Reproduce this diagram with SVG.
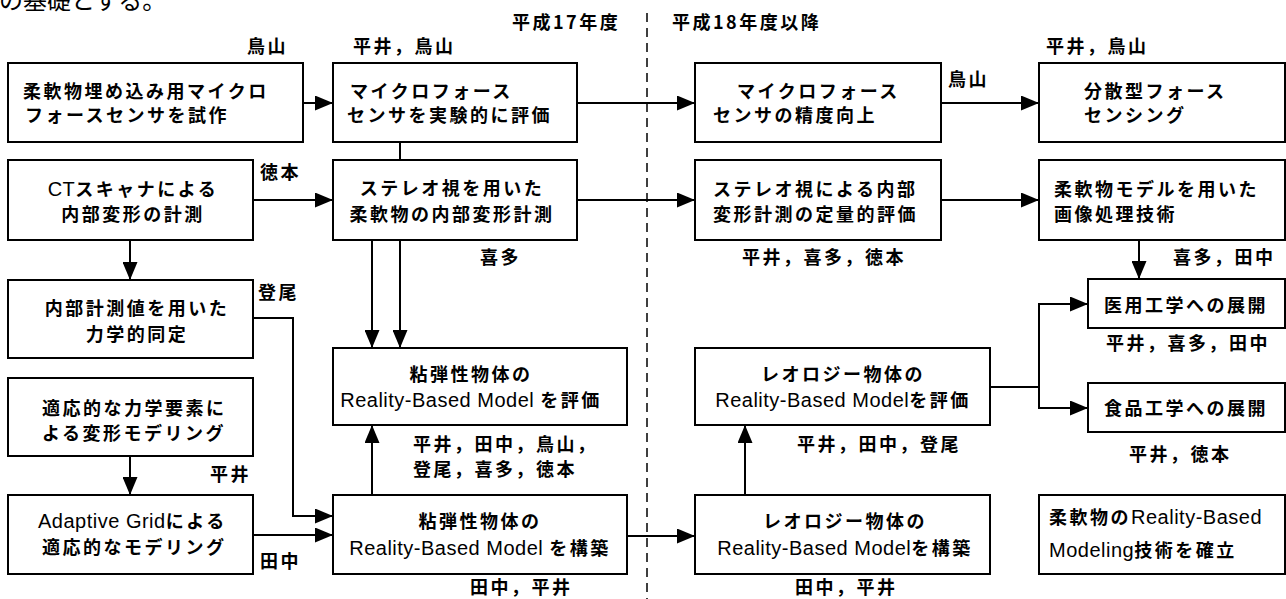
<svg xmlns="http://www.w3.org/2000/svg" width="1286" height="599" viewBox="0 0 1286 599">
<style>
.box{fill:#fff;stroke:#000;stroke-width:2}
.j{font-family:"Noto Sans CJK JP","Noto Sans CJK SC",sans-serif;font-size:18px;font-weight:700;letter-spacing:2.5px;fill:#000}
.l{font-family:"Liberation Sans",Arial,sans-serif;font-size:20px;font-weight:400;letter-spacing:0.5px}
.m{text-anchor:middle}
.cn{fill:none;stroke:#000;stroke-width:2}
.top{font-family:"Noto Sans CJK JP",sans-serif;font-size:24px;fill:#000}
</style>
<defs>
<marker id="ah" markerUnits="userSpaceOnUse" markerWidth="18" markerHeight="15" refX="18" refY="7.5" orient="auto">
<path d="M0,0 L18,7.5 L0,15 z" fill="#000"/>
</marker>
</defs>
<rect width="1286" height="599" fill="#fff"/>
<text class="top" x="-1" y="9">の基礎とする。</text>
<text class="j" x="512" y="29">平成17年度</text>
<text class="j" x="672" y="29">平成18年度以降</text>
<path d="M647,13 V599" stroke="#000" stroke-width="1.5" stroke-dasharray="9,6" fill="none"/>

<g id="connectors">
<path class="cn" d="M303,103 H333" marker-end="url(#ah)"/>
<path class="cn" d="M253,200 H333" marker-end="url(#ah)"/>
<path class="cn" d="M400,142 V160"/>
<path class="cn" d="M130,240 V280" marker-end="url(#ah)"/>
<path class="cn" d="M253,318 H293 V516 H333" marker-end="url(#ah)"/>
<path class="cn" d="M130,456 V495" marker-end="url(#ah)"/>
<path class="cn" d="M253,535 H333" marker-end="url(#ah)"/>
<path class="cn" d="M372,240 V348" marker-end="url(#ah)"/>
<path class="cn" d="M400,240 V348" marker-end="url(#ah)"/>
<path class="cn" d="M372,495 V425" marker-end="url(#ah)"/>
<path class="cn" d="M577,103 H695" marker-end="url(#ah)"/>
<path class="cn" d="M577,200 H695" marker-end="url(#ah)"/>
<path class="cn" d="M627,536 H695" marker-end="url(#ah)"/>
<path class="cn" d="M941,103 H1039" marker-end="url(#ah)"/>
<path class="cn" d="M941,200 H1039" marker-end="url(#ah)"/>
<path class="cn" d="M1139,240 V279" marker-end="url(#ah)"/>
<path class="cn" d="M990,387 H1039 V304 H1088" marker-end="url(#ah)"/>
<path class="cn" d="M1039,387 V408 H1088" marker-end="url(#ah)"/>
<path class="cn" d="M745,495 V425" marker-end="url(#ah)"/>
</g>

<g id="nA1"><rect class="box" x="8" y="63" width="295" height="79"/>
<text class="j" x="23" y="98">柔軟物埋め込み用マイクロ</text>
<text class="j" x="25" y="122">フォースセンサを試作</text></g>
<g id="nB1"><rect class="box" x="333" y="63" width="244" height="79"/>
<text class="j" x="350" y="98">マイクロフォース</text>
<text class="j" x="347" y="122">センサを実験的に評価</text></g>
<g id="nC1"><rect class="box" x="695" y="63" width="246" height="79"/>
<text class="j" x="737" y="98">マイクロフォース</text>
<text class="j" x="713" y="122">センサの精度向上</text></g>
<g id="nD1"><rect class="box" x="1039" y="63" width="246" height="79"/>
<text class="j" x="1084" y="98">分散型フォース</text>
<text class="j" x="1084" y="122">センシング</text></g>

<g id="nA2"><rect class="box" x="8" y="160" width="245" height="80"/>
<text class="j m" x="133" y="196"><tspan class="l">CT</tspan>スキャナによる</text>
<text class="j m" x="133" y="221">内部変形の計測</text></g>
<g id="nB2"><rect class="box" x="333" y="160" width="244" height="80"/>
<text class="j m" x="452" y="195">ステレオ視を用いた</text>
<text class="j m" x="452" y="221">柔軟物の内部変形計測</text></g>
<g id="nC2"><rect class="box" x="695" y="160" width="246" height="80"/>
<text class="j" x="713" y="196">ステレオ視による内部</text>
<text class="j" x="713" y="221">変形計測の定量的評価</text></g>
<g id="nD2"><rect class="box" x="1039" y="160" width="246" height="80"/>
<text class="j" x="1054" y="196">柔軟物モデルを用いた</text>
<text class="j" x="1054" y="221">画像処理技術</text></g>

<g id="nA3"><rect class="box" x="8" y="280" width="245" height="78"/>
<text class="j m" x="137" y="315">内部計測値を用いた</text>
<text class="j m" x="137" y="341">力学的同定</text></g>
<g id="nA4"><rect class="box" x="8" y="378" width="245" height="78"/>
<text class="j" x="42" y="415">適応的な力学要素に</text>
<text class="j" x="42" y="440">よる変形モデリング</text></g>
<g id="nA5"><rect class="box" x="8" y="495" width="245" height="79"/>
<text class="j" x="38" y="528"><tspan class="l">Adaptive Grid</tspan>による</text>
<text class="j" x="42" y="554">適応的なモデリング</text></g>

<g id="nB3"><rect class="box" x="333" y="348" width="294" height="77"/>
<text class="j m" x="471" y="381">粘弾性物体の</text>
<text class="j m" x="471" y="407"><tspan class="l">Reality-Based Model </tspan>を評価</text></g>
<g id="nB4"><rect class="box" x="333" y="495" width="294" height="79"/>
<text class="j m" x="480" y="528">粘弾性物体の</text>
<text class="j m" x="480" y="555"><tspan class="l">Reality-Based Model </tspan>を構築</text></g>
<g id="nC3"><rect class="box" x="695" y="348" width="295" height="77"/>
<text class="j m" x="843" y="381">レオロジー物体の</text>
<text class="j m" x="843" y="407"><tspan class="l">Reality-Based Model</tspan>を評価</text></g>
<g id="nC4"><rect class="box" x="695" y="495" width="295" height="79"/>
<text class="j m" x="845" y="528">レオロジー物体の</text>
<text class="j m" x="845" y="555"><tspan class="l">Reality-Based Model</tspan>を構築</text></g>

<g id="nD3"><rect class="box" x="1088" y="279" width="197" height="49"/>
<text class="j" x="1104" y="312">医用工学への展開</text></g>
<g id="nD4"><rect class="box" x="1088" y="383" width="197" height="49"/>
<text class="j" x="1104" y="415">食品工学への展開</text></g>
<g id="nD5"><rect class="box" x="1039" y="495" width="246" height="79"/>
<text class="j" x="1049" y="524">柔軟物の<tspan class="l">Reality-Based</tspan></text>
<text class="j" x="1049" y="557"><tspan class="l">Modeling</tspan>技術を確立</text></g>

<g id="labels">
<text class="j" x="247" y="53">鳥山</text>
<text class="j" x="353" y="53">平井，鳥山</text>
<text class="j" x="948" y="86">鳥山</text>
<text class="j" x="1046" y="53">平井，鳥山</text>
<text class="j" x="260" y="179">徳本</text>
<text class="j" x="480" y="264">喜多</text>
<text class="j" x="742" y="264">平井，喜多，徳本</text>
<text class="j" x="1173" y="264">喜多，田中</text>
<text class="j" x="258" y="299">登尾</text>
<text class="j" x="1106" y="350">平井，喜多，田中</text>
<text class="j" x="413" y="451">平井，田中，鳥山，</text>
<text class="j" x="413" y="476">登尾，喜多，徳本</text>
<text class="j" x="797" y="451">平井，田中，登尾</text>
<text class="j" x="1129" y="461">平井，徳本</text>
<text class="j" x="210" y="481">平井</text>
<text class="j" x="260" y="568">田中</text>
<text class="j" x="470" y="594">田中，平井</text>
<text class="j" x="795" y="594">田中，平井</text>
</g>
</svg>
